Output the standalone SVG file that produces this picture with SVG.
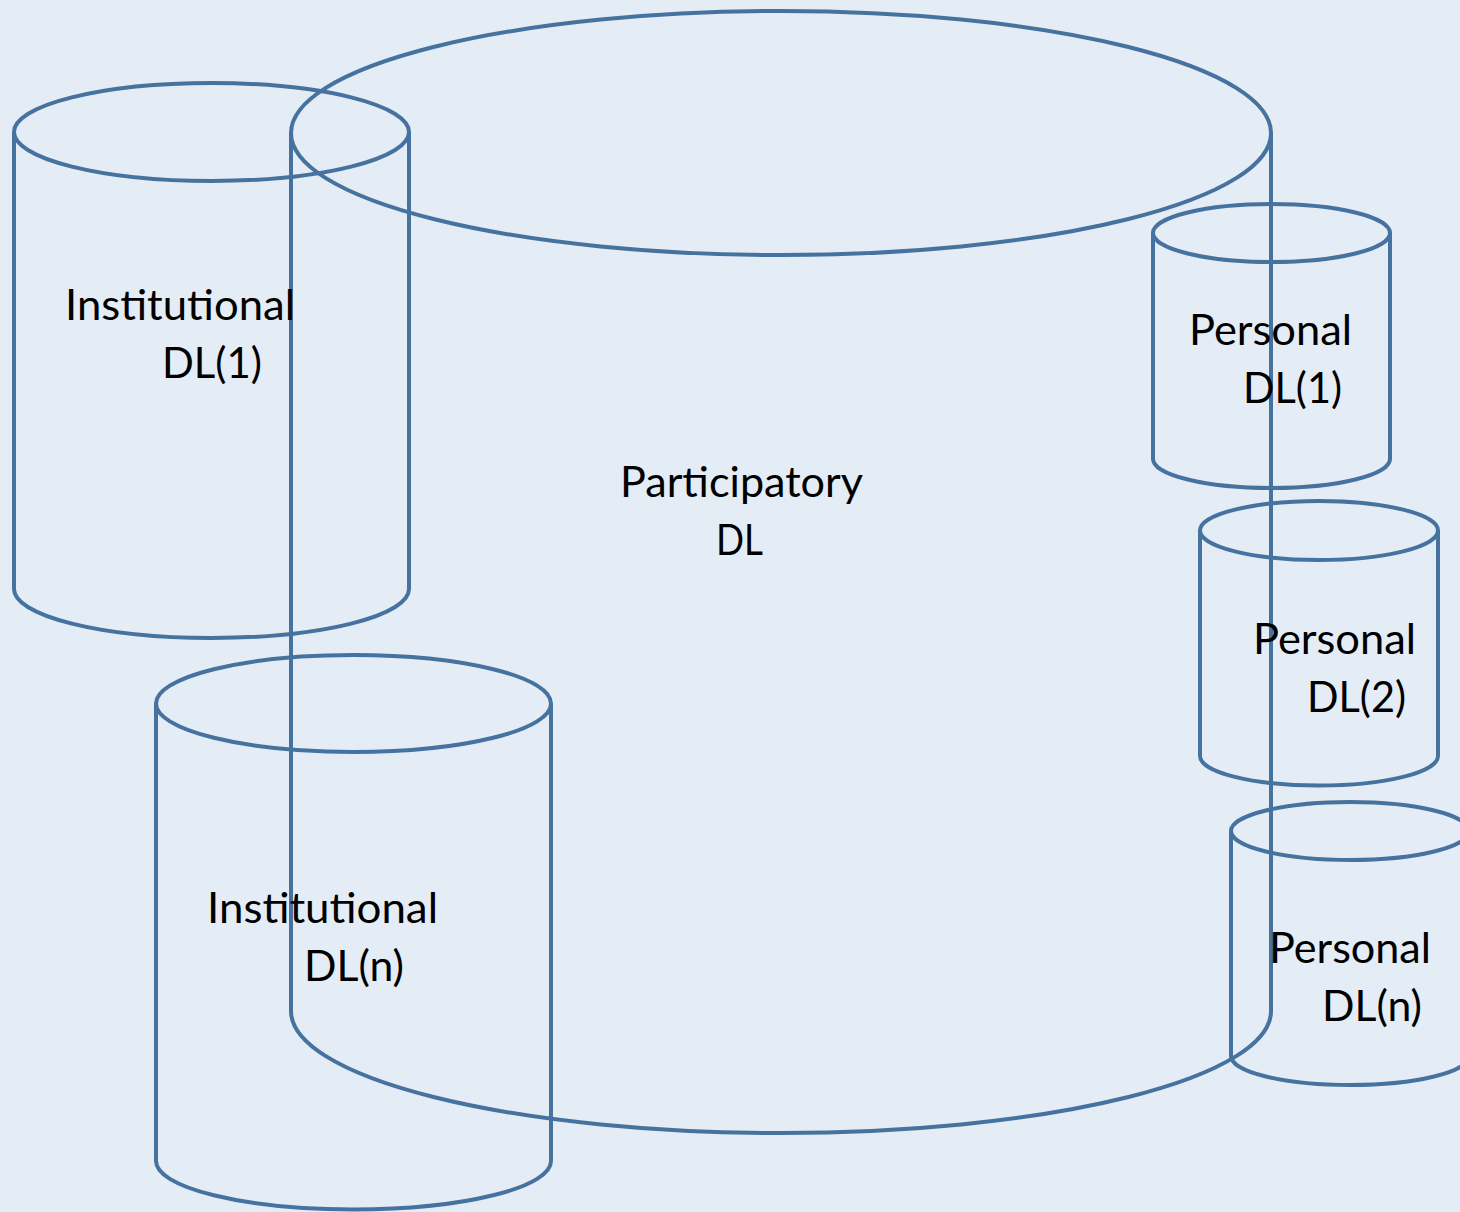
<svg xmlns="http://www.w3.org/2000/svg" width="1460" height="1212" viewBox="0 0 1460 1212">
<style>
.c{fill:none;stroke:#4672A0;stroke-width:4}
.t{font-family:Lato,"Open Sans","Liberation Sans",sans-serif;font-size:42px;fill:#000}
</style>
<rect width="1460" height="1212" fill="#E4ECF5"/>
<g id="participatory">
<ellipse class="c" cx="781" cy="133" rx="490" ry="122"/>
<path class="c" d="M291,133 L291,1011 A490,122 0 0 0 1271,1011 L1271,133"/>
<text class="t" x="620" y="497" textLength="243" lengthAdjust="spacingAndGlyphs">Participatory</text>
<text class="t" x="716" y="555" textLength="47" lengthAdjust="spacingAndGlyphs">DL</text>
</g>
<g id="institutional1">
<ellipse class="c" cx="211.5" cy="132" rx="197.5" ry="49"/>
<path class="c" d="M14,132 L14,589 A197.5,49 0 0 0 409,589 L409,132"/>
<text class="t" x="65" y="320" textLength="230" lengthAdjust="spacingAndGlyphs">Institutional</text>
<text class="t" x="162" y="378" textLength="100" lengthAdjust="spacingAndGlyphs">DL(1)</text>
</g>
<g id="institutionaln">
<ellipse class="c" cx="353.5" cy="703.5" rx="197.5" ry="48.5"/>
<path class="c" d="M156,703.5 L156,1161 A197.5,48.5 0 0 0 551,1161 L551,703.5"/>
<text class="t" x="207" y="923" textLength="231" lengthAdjust="spacingAndGlyphs">Institutional</text>
<text class="t" x="304" y="981" textLength="100" lengthAdjust="spacingAndGlyphs">DL(n)</text>
</g>
<g id="personal1">
<ellipse class="c" cx="1271.5" cy="233" rx="118.5" ry="29"/>
<path class="c" d="M1153,233 L1153,459 A118.5,29 0 0 0 1390,459 L1390,233"/>
<text class="t" x="1189" y="345" textLength="163" lengthAdjust="spacingAndGlyphs">Personal</text>
<text class="t" x="1243" y="403" textLength="99" lengthAdjust="spacingAndGlyphs">DL(1)</text>
</g>
<g id="personal2">
<ellipse class="c" cx="1319" cy="530.5" rx="119" ry="29.5"/>
<path class="c" d="M1200,530.5 L1200,756 A119,29.5 0 0 0 1438,756 L1438,530.5"/>
<text class="t" x="1253" y="654" textLength="163" lengthAdjust="spacingAndGlyphs">Personal</text>
<text class="t" x="1307" y="712" textLength="99" lengthAdjust="spacingAndGlyphs">DL(2)</text>
</g>
<g id="personaln">
<ellipse class="c" cx="1350" cy="831" rx="119" ry="29"/>
<path class="c" d="M1231,831 L1231,1056 A119,29 0 0 0 1469,1056 L1469,831"/>
<text class="t" x="1269" y="963" textLength="162" lengthAdjust="spacingAndGlyphs">Personal</text>
<text class="t" x="1322" y="1021" textLength="100" lengthAdjust="spacingAndGlyphs">DL(n)</text>
</g>
<g id="connectors"/>
</svg>
